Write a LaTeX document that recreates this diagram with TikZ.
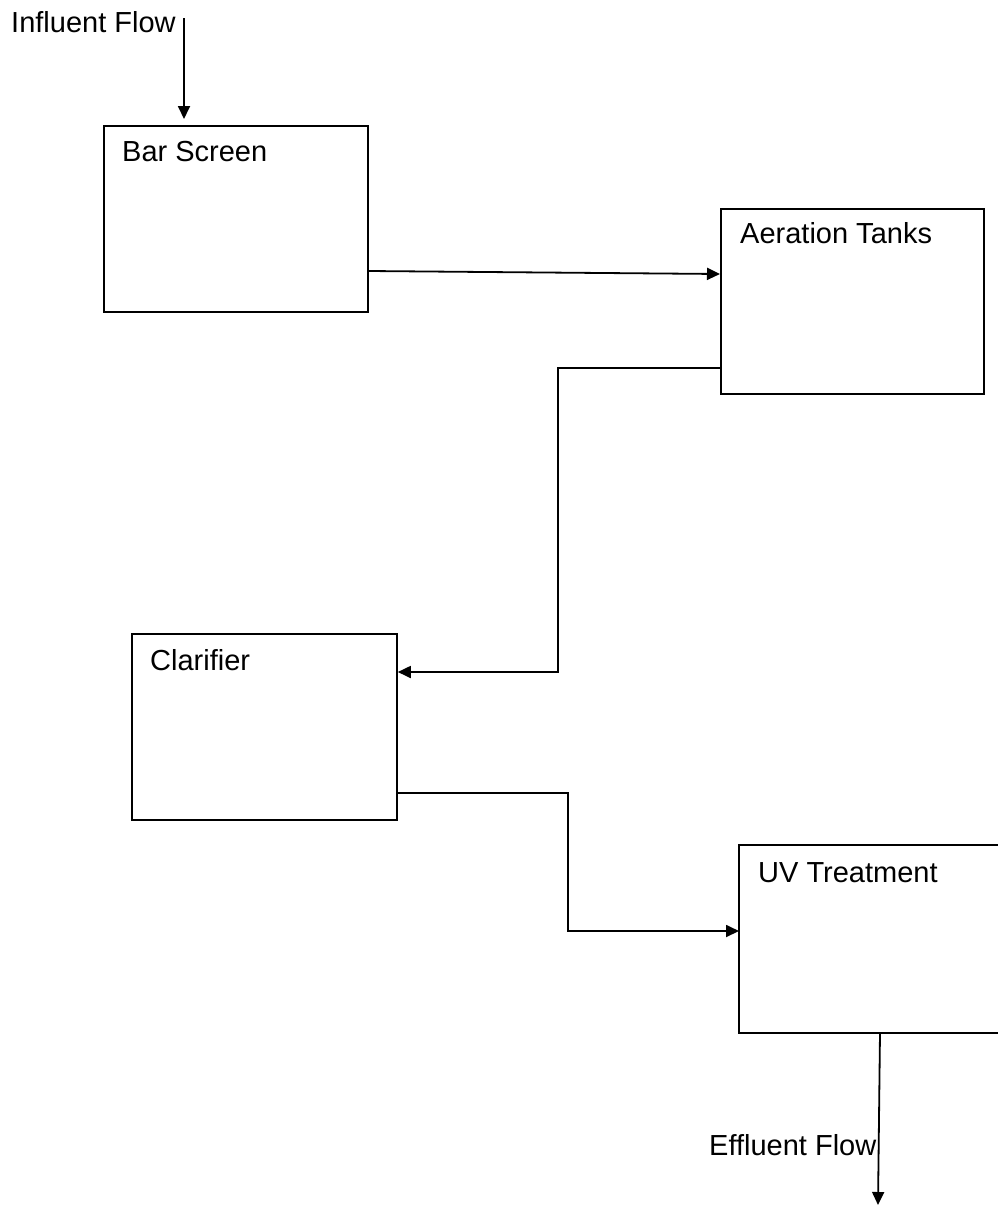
\documentclass[tikz,border=0pt]{standalone}
\usepackage{fontspec}
\setmainfont{Liberation Sans}
\usetikzlibrary{arrows.meta}
\begin{document}
\begin{tikzpicture}[x=1pt,y=-1pt,
  box/.style={draw, line width=1.8pt, rectangle, inner sep=0pt, anchor=north west},
  lbl/.style={anchor=base west, inner sep=0pt, font=\fontsize{29}{34}\selectfont},
  flow/.style={line width=1.8pt, -{Triangle[length=13pt,width=12pt]}}]
\useasboundingbox (0,0) rectangle (998,1216);
% boxes
\node[box, minimum width=264pt, minimum height=186pt] (bar) at (103,125) {};
\node[box, minimum width=263pt, minimum height=185pt] (aer) at (720,208) {};
\node[box, minimum width=265pt, minimum height=186pt] (cla) at (131,633) {};
\node[box, draw=none, minimum width=259pt, minimum height=186pt] (uv) at (739,845) {};
\draw[line width=1.8pt] (uv.north east) -- (uv.north west) -- (uv.south west) -- (uv.south east);
% labels
\node[lbl] (tin) at (11,32) {Influent Flow};
\node[lbl] (tbar) at (122,161) {Bar Screen};
\node[lbl] (taer) at (740,243) {Aeration Tanks};
\node[lbl] (tcla) at (150,670) {Clarifier};
\node[lbl] (tuv) at (758,882) {UV Treatment};
\node[lbl] (teff) at (709,1155) {Effluent Flow};
% connectors
\coordinate (inTop) at (184,18);
\coordinate (inTip) at (184,119);
\draw[flow] (inTop) -- (inTip);
\draw[flow] (bar.east |- 0,271) -- (aer.west |- 0,274);
\draw[flow] (aer.west |- 0,368) -- (558,368) -- (558,672) -- (cla.east |- 0,672);
\draw[flow] (cla.east |- 0,793) -- (568,793) -- (568,931) -- (uv.west |- 0,931);
\coordinate (effTip) at (878,1205);
\draw[flow] (uv.south west -| 880,0) -- (effTip);
\end{tikzpicture}
\end{document}
